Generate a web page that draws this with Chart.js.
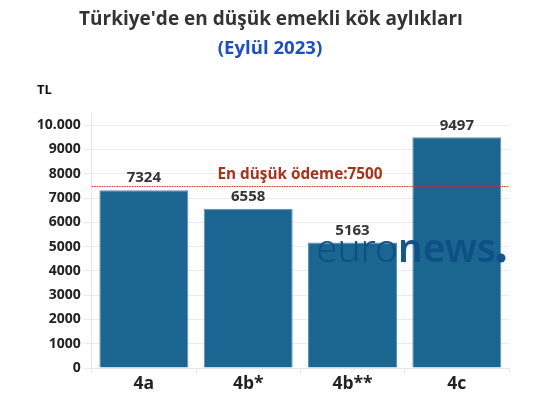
<!DOCTYPE html>
<html>
<head>
<meta charset="utf-8">
<script src="https://cdn.jsdelivr.net/npm/chart.js@4/dist/chart.umd.min.js"></script>
<style>
html,body{margin:0;padding:0;background:#fff;}
#wrap{width:537px;height:416px;position:relative;}
</style>
</head>
<body>
<div id="wrap"><canvas id="c" width="537" height="416"></canvas></div>
<script>
const categories = ['4a', '4b*', '4b**', '4c'];
const values = [7324, 6558, 5163, 9497];
const minPayment = 7500;
const yTicks = [0,1000,2000,3000,4000,5000,6000,7000,8000,9000,10000];
const yTickLabels = ['0','1000','2000','3000','4000','5000','6000','7000','8000','9000','10.000'];
const titleText = "Türkiye'de en düşük emekli kök aylıkları";
const subtitleText = '(Eylül 2023)';
const refLabel = 'En düşük ödeme:7500';

const FONT = "'Open Sans', 'Noto Sans', sans-serif";

const overlay = {
  id: 'overlay',
  afterDatasetsDraw(chart) {
    const ctx = chart.ctx;
    const x = chart.scales.x, y = chart.scales.y;
    const area = chart.chartArea;
    ctx.save();
    // watermark
    const target = 180;
    let fs = 40;
    ctx.font = `300 ${fs}px 'Noto Sans', sans-serif`;
    let w1 = ctx.measureText('euro').width;
    ctx.font = `600 ${fs}px 'Noto Sans', sans-serif`;
    let w2 = ctx.measureText('news').width;
    const scale = target / (w1 + w2);
    fs = fs * scale;
    w1 *= scale; w2 *= scale;
    const wx = 316, wy = 262;
    ctx.fillStyle = 'rgba(13,80,132,0.97)';
    ctx.textBaseline = 'alphabetic';
    ctx.textAlign = 'left';
    ctx.font = `300 ${fs}px 'Noto Sans', sans-serif`;
    ctx.fillText('euro', wx, wy);
    ctx.font = `600 ${fs}px 'Noto Sans', sans-serif`;
    ctx.fillText('news', wx + w1, wy);
    ctx.beginPath();
    ctx.arc(wx + w1 + w2 + 5, wy - 4, 4.5, 0, Math.PI * 2);
    ctx.fill();

    // reference line
    const ly = Math.round(y.getPixelForValue(minPayment)) + 0.5;
    ctx.strokeStyle = '#e3262b';
    ctx.lineWidth = 1;
    ctx.setLineDash([1.5, 1]);
    ctx.beginPath();
    ctx.moveTo(area.left, ly);
    ctx.lineTo(area.right, ly);
    ctx.stroke();
    ctx.setLineDash([]);
    ctx.fillStyle = '#a8321c';
    ctx.font = `bold 15.3px ${FONT}`;
    ctx.textAlign = 'center';
    ctx.textBaseline = 'middle';
    ctx.fillText(refLabel, 300, ly - 12);

    // value labels
    const meta = chart.getDatasetMeta(0);
    ctx.fillStyle = '#333';
    ctx.font = `bold 15px ${FONT}`;
    ctx.textBaseline = 'middle';
    meta.data.forEach((bar, i) => {
      ctx.fillText(String(values[i]), bar.x, bar.y - 12);
    });

    // titles
    ctx.fillStyle = '#333';
    ctx.font = `bold 19px ${FONT}`;
    ctx.fillText(titleText, 271, 20);
    ctx.fillStyle = '#1d4fbf';
    ctx.font = `bold 18.6px ${FONT}`;
    ctx.fillText(subtitleText, 270, 49);
    ctx.fillStyle = '#111';
    ctx.font = `bold 13px ${FONT}`;
    ctx.textAlign = 'left';
    ctx.fillText('TL', 37, 90);
    ctx.restore();
  }
};

new Chart(document.getElementById('c'), {
  type: 'bar',
  data: {
    labels: categories,
    datasets: [{
      data: values,
      backgroundColor: '#1b6690',
      borderColor: '#5d90b4',
      borderWidth: 1,
      barPercentage: 0.853,
      categoryPercentage: 1.0
    }]
  },
  options: {
    responsive: false,
    animation: false,
    layout: { padding: { top: 113, left: 31.7, right: 28, bottom: 0 } },
    plugins: { legend: { display: false }, tooltip: { enabled: false }, title: { display: false } },
    scales: {
      x: {
        afterFit(s) { s.height = 48; },
        grid: { display: true, drawOnChartArea: false, color: '#e6e6e6', tickLength: 5 },
        border: { color: '#e6e6e6' },
        ticks: { color: '#222', font: { family: FONT, size: 17.5, weight: 'bold' }, padding: 1 }
      },
      y: {
        min: 0,
        max: 10500,
        afterFit(s) { s.width = 60; },
        afterBuildTicks(s) { s.ticks = yTicks.map(v => ({ value: v })); },
        grid: { color: '#ebebeb', tickLength: 8 },
        border: { color: '#e6e6e6' },
        ticks: {
          color: '#222',
          font: { family: FONT, size: 14, weight: 'bold' },
          padding: 3,
          callback(v) { const i = yTicks.indexOf(v); return i >= 0 ? yTickLabels[i] : ''; }
        }
      }
    }
  },
  plugins: [overlay]
});
</script>
</body>
</html>
